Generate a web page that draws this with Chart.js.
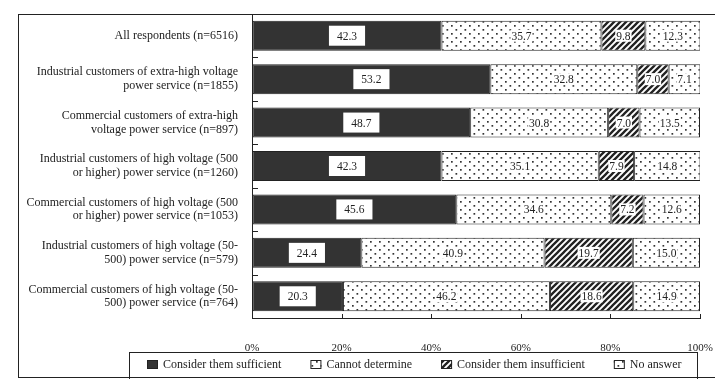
<!DOCTYPE html>
<html>
<head>
<meta charset="utf-8">
<script src="https://cdn.jsdelivr.net/npm/chart.js@4"></script>
<style>
  html, body { margin: 0; padding: 0; background: #fff; }
  #wrap { width: 715px; height: 379px; }
</style>
</head>
<body>
<div id="wrap"><canvas id="chart" width="715" height="379"></canvas></div>
<script>
const categories = [
    ['All respondents (n=6516)'],
    ['Industrial customers of extra-high voltage', 'power service (n=1855)'],
    ['Commercial customers of extra-high', 'voltage power service (n=897)'],
    ['Industrial customers of high voltage (500', 'or higher) power service (n=1260)'],
    ['Commercial customers of high voltage (500', 'or higher) power service (n=1053)'],
    ['Industrial customers of high voltage (50-', '500) power service (n=579)'],
    ['Commercial customers of high voltage (50-', '500) power service (n=764)'],
];
const seriesNames = [
    'Consider them sufficient',
    'Cannot determine',
    'Consider them insufficient',
    'No answer',
];
const sufficient = [42.3, 53.2, 48.7, 42.3, 45.6, 24.4, 20.3];
const cannotDetermine = [35.7, 32.8, 30.8, 35.1, 34.6, 40.9, 46.2];
const insufficient = [9.8, 7.0, 7.0, 7.9, 7.2, 19.7, 18.6];
const noAnswer = [12.3, 7.1, 13.5, 14.8, 12.6, 15.0, 14.9];
const xTicks = [0, 20, 40, 60, 80, 100];

const FONT = '"Liberation Serif", "DejaVu Serif", serif';
const DARK = '#333333';

// fill patterns
function dotPattern() {
    const c = document.createElement('canvas');
    c.width = 9;
    c.height = 8;
    const g = c.getContext('2d');
    g.fillStyle = '#fff';
    g.fillRect(0, 0, 9, 8);
    g.fillStyle = '#333';
    g.fillRect(1, 1, 1.7, 1.7);
    g.fillRect(5.5, 5, 1.7, 1.7);
    return g.createPattern(c, 'repeat');
}

function hatchPattern() {
    const c = document.createElement('canvas');
    c.width = 6;
    c.height = 6;
    const g = c.getContext('2d');
    g.fillStyle = '#fff';
    g.fillRect(0, 0, 6, 6);
    g.strokeStyle = '#222';
    g.lineWidth = 2.3;
    g.beginPath();
    g.moveTo(-1, 7); g.lineTo(7, -1);
    g.moveTo(-4, 4); g.lineTo(4, -4);
    g.moveTo(2, 10); g.lineTo(10, 2);
    g.stroke();
    return g.createPattern(c, 'repeat');
}

const dots = dotPattern();
const hatch = hatchPattern();

const dataset = (label, data, fill) => ({
    label: label,
    data: data,
    backgroundColor: fill,
    borderColor: '#222',
    borderWidth: 1,
    borderSkipped: false,
    categoryPercentage: 1,
    barPercentage: 0.69,
});

// outer frame, inward tick marks
const framePlugin = {
    id: 'frame',
    beforeDraw(chart) {
        const ctx = chart.ctx;
        ctx.save();
        ctx.fillStyle = '#fff';
        ctx.fillRect(0, 0, chart.width, chart.height);
        ctx.restore();
    },
    afterDraw(chart) {
        const ctx = chart.ctx;
        const area = chart.chartArea;
        const x = chart.scales.x;
        const y = chart.scales.y;
        ctx.save();
        ctx.strokeStyle = '#222';
        ctx.lineWidth = 1;
        ctx.strokeRect(18.5, 14.5, chart.width, 363);

        ctx.beginPath();
        // category boundary marks on the y axis
        for (let i = 0; i <= categories.length; i++) {
            let py;
            if (i == 0) py = area.top;
            else if (i == categories.length) py = area.bottom;
            else py = (y.getPixelForValue(i - 1) + y.getPixelForValue(i)) / 2;
            py = Math.round(py) + 0.5;
            ctx.moveTo(area.left, py);
            ctx.lineTo(area.left + 6, py);
        }
        // percent marks on the x axis
        xTicks.forEach(function (v) {
            const px = Math.round(x.getPixelForValue(v)) + 0.5;
            ctx.moveTo(px, area.bottom);
            ctx.lineTo(px, area.bottom - 4);
        });
        ctx.stroke();
        ctx.restore();
    },
};

// boxed legend under the axis
const legendPlugin = {
    id: 'boxLegend',
    afterDraw(chart) {
        const ctx = chart.ctx;
        ctx.save();
        ctx.strokeStyle = '#222';
        ctx.lineWidth = 1;
        ctx.strokeRect(129.5, 352.5, 568, 30);

        ctx.font = '12px ' + FONT;
        ctx.textBaseline = 'middle';
        ctx.textAlign = 'left';
        let lx = 147;
        const ly = 365;
        chart.data.datasets.forEach(function (ds) {
            ctx.fillStyle = ds.backgroundColor;
            ctx.fillRect(lx, ly - 5, 11, 9);
            ctx.strokeStyle = '#222';
            ctx.strokeRect(lx + 0.5, ly - 4.5, 10, 8);
            ctx.fillStyle = '#222';
            ctx.fillText(ds.label, lx + 16, ly);
            lx += 16 + ctx.measureText(ds.label).width + 29;
        });
        ctx.restore();
    },
};

// value labels on white boxes
const labelPlugin = {
    id: 'values',
    afterDatasetsDraw(chart) {
        const ctx = chart.ctx;
        ctx.save();
        ctx.font = '11.5px ' + FONT;
        ctx.textAlign = 'center';
        ctx.textBaseline = 'middle';
        chart.data.datasets.forEach(function (ds, di) {
            const meta = chart.getDatasetMeta(di);
            meta.data.forEach(function (bar, i) {
                const text = ds.data[i].toFixed(1);
                const cx = (bar.x + bar.base) / 2;
                const cy = bar.y;
                const w = ctx.measureText(text).width;
                ctx.fillStyle = '#fff';
                if (di == 0) {
                    ctx.fillRect(cx - w / 2 - 8, cy - 10, w + 16, 20);
                } else {
                    ctx.fillRect(cx - w / 2 - 1, cy - 6, w + 2, 12);
                }
                ctx.fillStyle = '#222';
                ctx.fillText(text, cx, cy + 1);
            });
        });
        ctx.restore();
    },
};

new Chart(document.getElementById('chart').getContext('2d'), {
    type: 'bar',
    data: {
        labels: categories,
        datasets: [
            dataset(seriesNames[0], sufficient, DARK),
            dataset(seriesNames[1], cannotDetermine, dots),
            dataset(seriesNames[2], insufficient, hatch),
            dataset(seriesNames[3], noAnswer, dots),
        ],
    },
    options: {
        indexAxis: 'y',
        responsive: false,
        animation: false,
        layout: { padding: { top: 14, right: 15, bottom: 27, left: 0 } },
        scales: {
            x: {
                stacked: true,
                min: 0,
                max: 100,
                afterBuildTicks(scale) {
                    scale.ticks = xTicks.map((v) => ({ value: v }));
                },
                afterFit(scale) {
                    scale.height = 34;
                    scale.paddingLeft = 0;
                    scale.paddingRight = 0;
                },
                ticks: {
                    callback: (v) => v + '%',
                    color: '#222',
                    font: { family: FONT, size: 11 },
                    padding: 24,
                    maxRotation: 0,
                },
                grid: { drawOnChartArea: false, drawTicks: false },
                border: { display: true, color: '#222', width: 1 },
            },
            y: {
                stacked: true,
                afterFit(scale) {
                    scale.width = 252;
                    scale.paddingTop = 0;
                    scale.paddingBottom = 0;
                },
                ticks: {
                    color: '#222',
                    font: { family: FONT, size: 12, lineHeight: 1.15 },
                    padding: 14,
                },
                grid: { drawOnChartArea: false, drawTicks: false },
                border: { display: true, color: '#222', width: 1 },
            },
        },
        plugins: {
            legend: { display: false },
            tooltip: { enabled: false },
        },
    },
    plugins: [framePlugin, labelPlugin, legendPlugin],
});
</script>
</body>
</html>
